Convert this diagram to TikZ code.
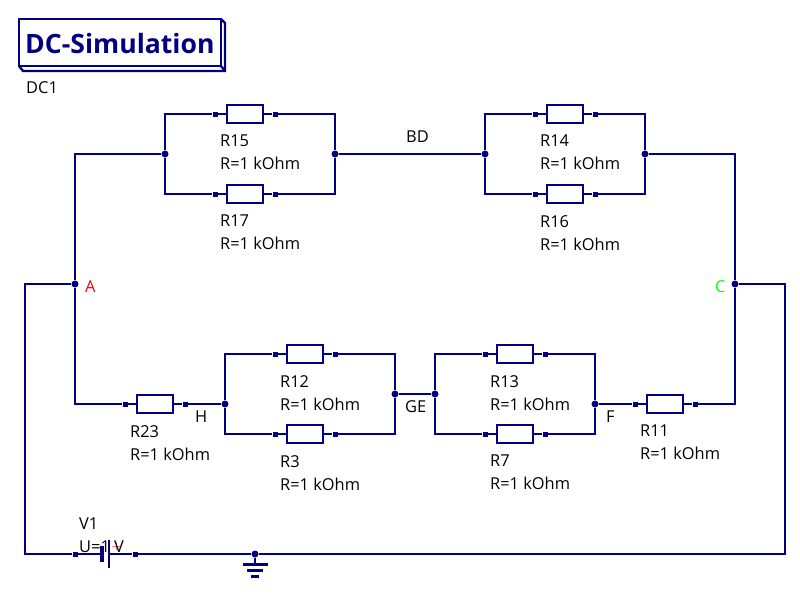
\documentclass[tikz,border=0pt]{standalone}
\usepackage{fontspec}
\setmainfont{Open Sans}
\definecolor{wirecol}{HTML}{000080}
\tikzset{
  wire/.style={wirecol, line width=2.4pt},
  res/.style={draw=wirecol, line width=2.4pt, fill=white, rectangle, minimum width=36pt, minimum height=18pt, inner sep=0pt},
  term/.style={fill=wirecol, rectangle, minimum size=5pt, inner sep=0pt},
  junc/.style={fill=wirecol, circle, minimum size=7pt, inner sep=0pt},
  txt/.style={anchor=north west, align=left, inner sep=0pt, font=\fontsize{16.4}{23}\selectfont},
  tag/.style={anchor=base west, inner sep=0pt, font=\fontsize{16.4}{23}\selectfont},
}
\begin{document}
\begin{tikzpicture}[x=1pt, y=-1pt]
    \useasboundingbox[fill=white] (0,0) rectangle (800,594);

    \draw[wire] (19,19) rectangle (221,66);
    \draw[wire] (221,19) -- (225,23) -- (225,71) -- (23,71) -- (19,66);
    \draw[wire] (221,66) -- (225,71);
    \node[anchor=base west, inner sep=0pt, text=wirecol, font=\fontsize{26.6}{30}\selectfont\bfseries] (title) at (25,54) {DC-Simulation};
    \node[tag] (dc) at (26,93) {DC1};

    \node[junc] (a) at (75,284) {};
    \node[junc] (c) at (735,284) {};
    \node[junc] (ja) at (165,154) {};
    \node[junc] (jbd) at (335,154) {};
    \node[junc] (jbe) at (485,154) {};
    \node[junc] (jc) at (645,154) {};
    \node[junc] (h) at (225,404) {};
    \node[junc] (g) at (395,394) {};
    \node[junc] (e) at (435,394) {};
    \node[junc] (f) at (595,404) {};
    \node[junc] (gnd) at (255,554) {};

    \node[res] (r15) at (245,114) {};
    \node[term] (r15a) at (215,114) {};
    \node[term] (r15b) at (275,114) {};
    \node[txt] (t15) at (220,135) {R15\\R=1 kOhm};

    \node[res] (r17) at (245,194) {};
    \node[term] (r17a) at (215,194) {};
    \node[term] (r17b) at (275,194) {};
    \node[txt] (t17) at (220,215) {R17\\R=1 kOhm};

    \node[res] (r14) at (565,114) {};
    \node[term] (r14a) at (535,114) {};
    \node[term] (r14b) at (595,114) {};
    \node[txt] (t14) at (540,135) {R14\\R=1 kOhm};

    \node[res] (r16) at (565,194) {};
    \node[term] (r16a) at (535,194) {};
    \node[term] (r16b) at (595,194) {};
    \node[txt] (t16) at (540,215) {R16\\R=1 kOhm};

    \node[res] (r23) at (155,404) {};
    \node[term] (r23a) at (125,404) {};
    \node[term] (r23b) at (185,404) {};
    \node[txt] (t23) at (130,425) {R23\\R=1 kOhm};

    \node[res] (r12) at (305,354) {};
    \node[term] (r12a) at (275,354) {};
    \node[term] (r12b) at (335,354) {};
    \node[txt] (t12) at (280,375) {R12\\R=1 kOhm};

    \node[res] (r3) at (305,434) {};
    \node[term] (r3a) at (275,434) {};
    \node[term] (r3b) at (335,434) {};
    \node[txt] (t3) at (280,455) {R3\\R=1 kOhm};

    \node[res] (r13) at (515,354) {};
    \node[term] (r13a) at (485,354) {};
    \node[term] (r13b) at (545,354) {};
    \node[txt] (t13) at (490,375) {R13\\R=1 kOhm};

    \node[res] (r7) at (515,434) {};
    \node[term] (r7a) at (485,434) {};
    \node[term] (r7b) at (545,434) {};
    \node[txt] (t7) at (490,455) {R7\\R=1 kOhm};

    \node[res] (r11) at (665,404) {};
    \node[term] (r11a) at (635,404) {};
    \node[term] (r11b) at (695,404) {};
    \node[txt] (t11) at (640,425) {R11\\R=1 kOhm};

    \node[term] (v1a) at (75,554) {};
    \node[term] (v1b) at (135,554) {};
    \coordinate (neg) at (101.5,554);
    \coordinate (posi) at (109,554);
    \coordinate (bl) at (25,554);
    \coordinate (br) at (785,554);
    \coordinate (tl) at (75,154);
    \coordinate (tr) at (735,154);

    \draw[wire] (ja) |- (r15a) -- (r15) -- (r15b) -| (jbd);
    \draw[wire] (ja) |- (r17a) -- (r17) -- (r17b) -| (jbd);
    \draw[wire] (jbe) |- (r14a) -- (r14) -- (r14b) -| (jc);
    \draw[wire] (jbe) |- (r16a) -- (r16) -- (r16b) -| (jc);
    \draw[wire] (jbd) -- (jbe);
    \draw[wire] (a) -- (tl) -- (ja);
    \draw[wire] (c) -- (tr) -- (jc);
    \draw[wire] (a) |- (r23a) -- (r23) -- (r23b) -- (h);
    \draw[wire] (h) |- (r12a) -- (r12) -- (r12b) -| (g);
    \draw[wire] (h) |- (r3a) -- (r3) -- (r3b) -| (g);
    \draw[wire] (g) -- (e);
    \draw[wire] (e) |- (r13a) -- (r13) -- (r13b) -| (f);
    \draw[wire] (e) |- (r7a) -- (r7) -- (r7b) -| (f);
    \draw[wire] (f) -- (r11a) -- (r11) -- (r11b) -| (c);
    \draw[wire] (a) -| (bl) -- (v1a) -- (neg);
    \draw[wire] (c) -| (br) -- (gnd) -- (v1b) -- (posi);

    \draw[wirecol, line width=4pt] (101.5,546) -- (101.5,562);
    \draw[wirecol, line width=2pt] (109,540) -- (109,568);

    \coordinate (g0) at (255,564);
    \draw[wire] (gnd) -- (g0);
    \draw[wirecol, line width=3pt] (243,564) -- (268,564);
    \draw[wirecol, line width=3pt] (247,570) -- (263,570);
    \draw[wirecol, line width=3pt] (251,576) -- (259,576);

    \draw[gray!60, line width=1pt] (93,547) -- (100,547);
    \draw[red!50, line width=1pt] (112,546) -- (120,546) (116,542) -- (116,550);
    \node[txt] (tv1) at (79,518) {V1\\U=1 V};

    \node[tag, text=red] (la) at (85,292) {A};
    \node[tag, text=green] (lc) at (715,292) {C};
    \node[tag] (lbd) at (406,142) {BD};
    \node[tag] (lh) at (195,422) {H};
    \node[tag] (lge) at (405,412) {GE};
    \node[tag] (lf) at (606,422) {F};
\end{tikzpicture}
\end{document}
